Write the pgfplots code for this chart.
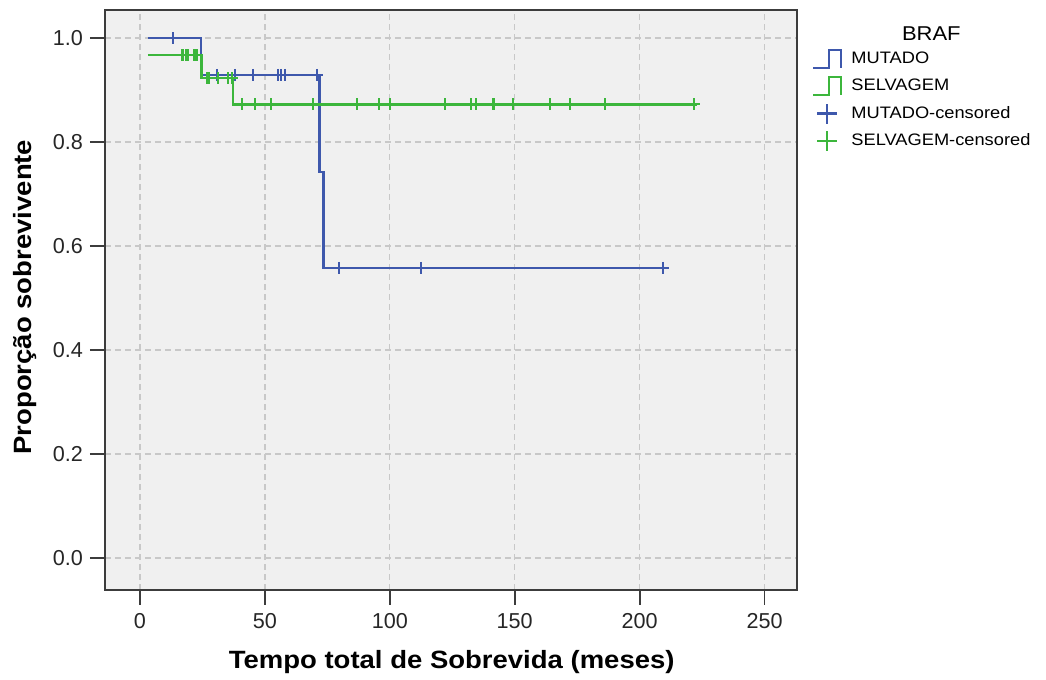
\documentclass[border=0pt]{standalone}
\usepackage{pgfplots}
\pgfplotsset{compat=1.18}
\usepackage{fontspec}
\setmainfont{Liberation Sans}
\newfontfamily\widesans[FakeStretch=1.1]{Liberation Sans}
\definecolor{kmblue}{RGB}{62,88,172}
\definecolor{kmgreen}{RGB}{60,182,60}
\definecolor{panel}{RGB}{240,240,240}
\definecolor{gridc}{RGB}{200,200,200}
\definecolor{framec}{RGB}{60,60,60}
\pgfplotsset{
 steplegend/.style={legend image code/.code={
   \draw[##1,line width=1.1pt] (0pt,-4.5pt) -- (8pt,-4.5pt) -- (8pt,4.5pt) -- (14pt,4.5pt) -- (14pt,-4.5pt);}},
 pluslegend/.style={legend image code/.code={
   \draw[##1,line width=1.1pt] (2pt,0pt) -- (12pt,0pt) (7pt,-5pt) -- (7pt,5pt);}},
}
\begin{document}
\begin{tikzpicture}
\useasboundingbox (-52.5pt,-45pt) rectangle (470.5pt,295pt);
\begin{axis}[
 at={(0,0)},anchor=south west,
 scale only axis,width=346pt,height=290pt,
 xmin=-14,xmax=263,ymin=-0.0615,ymax=1.054,
 xtick={0,50,...,250},ytick={0,0.2,...,1.0},
 xtick pos=bottom,ytick pos=left,
 yticklabel style={/pgf/number format/.cd,fixed,fixed zerofill,precision=1},
 /pgf/number format/assume math mode=true,
 tick align=outside,major tick length=7.5pt,
 tick style={framec,line width=0.9pt},
 axis line style={framec,line width=0.8pt},
 axis background/.style={fill=panel},
 grid=major,
 major grid style={gridc,dashed,dash pattern=on 3pt off 2pt,line width=0.7pt},
 ticklabel style={font=\fontsize{10.8}{12}\selectfont,text=black!85},
 xticklabel style={yshift=-0.5pt},
 xlabel={\textbf{Tempo total de Sobrevida (meses)}},
 ylabel={\textbf{Proporção sobrevivente}},
 label style={font=\widesans\fontsize{12.5}{14}\selectfont},
 xlabel style={at={(axis description cs:0.501,0)},anchor=center,yshift=-36pt},
 ylabel style={at={(axis description cs:-0.1156,0.505)},anchor=center},
 legend style={at={(axis description cs:1.0128,0.942)},anchor=north west,
   draw=none,fill=none,font=\widesans\fontsize{8.3}{10}\selectfont,
   row sep=2.2pt,name=leg,
   /tikz/every odd column/.append style={column sep=2.5pt}},
 legend cell align=left,
 clip=false,
]
\addplot[const plot,kmblue,line width=1.2pt,steplegend] coordinates {
(3.2,1.0)(24.4,0.929)(71.8,0.742)(73.4,0.558)(210,0.558)};
\addlegendentry{MUTADO}
\addplot[const plot,kmgreen,line width=1.2pt,steplegend] coordinates {
(3.2,0.967)(24.7,0.923)(37.2,0.8725)(223,0.8725)};
\addlegendentry{SELVAGEM}
\addplot[only marks,mark=+,mark size=3pt,kmblue,mark options={line width=1.1pt},pluslegend] coordinates {
(13.2,1.0)
(30.8,0.929)(38,0.929)(45.3,0.929)(55.3,0.929)(56.5,0.929)(58,0.929)(70.9,0.929)
(79.8,0.558)(112.4,0.558)(209.3,0.558)};
\addlegendentry{MUTADO-censored}
\addplot[only marks,mark=+,mark size=3pt,kmgreen,mark options={line width=1.1pt},pluslegend] coordinates {
(17,0.967)(18.3,0.967)(19.3,0.967)(21.8,0.967)(22.8,0.967)
(26.7,0.923)(27.6,0.923)(31.3,0.923)(35.3,0.923)(36.7,0.923)
(40.7,0.8725)(46,0.8725)(52.3,0.8725)(69.3,0.8725)(87,0.8725)(95.8,0.8725)
(100.1,0.8725)(122.1,0.8725)(132.6,0.8725)(134.4,0.8725)(141.5,0.8725)
(149.2,0.8725)(164.2,0.8725)(172.2,0.8725)(186,0.8725)(221.9,0.8725)};
\addlegendentry{SELVAGEM-censored}
\end{axis}
\node[anchor=south,font=\widesans\fontsize{10}{12}\selectfont] at ([xshift=4pt,yshift=-2pt]leg.north) {BRAF};
\end{tikzpicture}
\end{document}
